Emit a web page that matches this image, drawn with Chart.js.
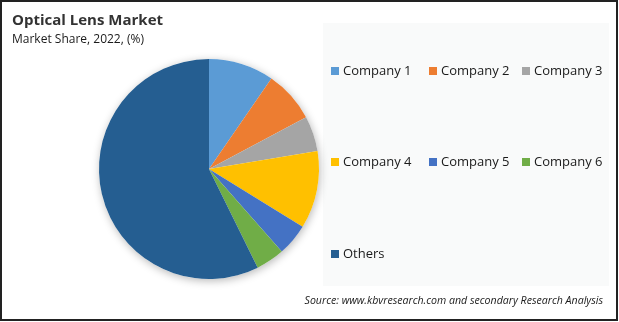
<!DOCTYPE html>
<html>
<head>
<meta charset="utf-8">
<script src="https://cdn.jsdelivr.net/npm/chart.js@4/dist/chart.umd.min.js"></script>
<style>
  html, body { margin: 0; padding: 0; background: #ffffff; }
  #wrap { width: 619px; height: 322px; position: relative; }
</style>
</head>
<body>
<div id="wrap"><canvas id="canvas" width="619" height="322"></canvas></div>
<script>
const titleText = "Optical Lens Market";
const subtitleText = "Market Share, 2022, (%)";
const sourceText = "Source: www.kbvresearch.com and secondary Research Analysis";

const companies = ["Company 1", "Company 2", "Company 3", "Company 4", "Company 5", "Company 6", "Others"];
const shares = [9.6, 7.6, 5.2, 11.4, 4.7, 4.2, 57.3];
const sliceColors = ["#5b9bd5", "#ed7d31", "#a5a5a5", "#ffc000", "#4472c4", "#70ad47", "#255e91"];

const FONT = "'Open Sans', 'Noto Sans', sans-serif";

// background, legend panel, frame, title texts and source line
const decorPlugin = {
    id: "decor",
    beforeDraw(chart) {
        const ctx = chart.ctx;
        ctx.save();
        ctx.fillStyle = "#ffffff";
        ctx.fillRect(0, 0, chart.width, chart.height);
        ctx.fillStyle = "#f9fafa";
        ctx.fillRect(323, 23, 286, 263);
        ctx.restore();
    },
    beforeDatasetsDraw(chart) {
        // soft shadow under the pie
        const arc = chart.getDatasetMeta(0).data[0];
        if (!arc) return;
        const ctx = chart.ctx;
        ctx.save();
        ctx.shadowColor = "rgba(0,0,0,0.28)";
        ctx.shadowBlur = 9;
        ctx.shadowOffsetX = 1;
        ctx.shadowOffsetY = 2;
        ctx.fillStyle = "#ffffff";
        ctx.beginPath();
        ctx.arc(arc.x, arc.y, arc.outerRadius, 0, Math.PI * 2);
        ctx.fill();
        ctx.restore();
    },
    afterDraw(chart) {
        const ctx = chart.ctx;
        ctx.save();
        ctx.textBaseline = "alphabetic";
        ctx.textAlign = "left";
        ctx.fillStyle = "#333333";
        ctx.font = "bold 15px " + FONT;
        ctx.fillText(titleText, 12, 25);
        ctx.fillStyle = "#1a1a1a";
        ctx.font = "12px " + FONT;
        ctx.fillText(subtitleText, 12, 43);

        // legend, three per row
        const colX = [331, 429, 522];
        const rowY = [71, 162, 254];
        ctx.font = "13px " + FONT;
        ctx.textBaseline = "middle";
        companies.forEach((name, i) => {
            const x = colX[i % 3];
            const y = rowY[Math.floor(i / 3)];
            ctx.fillStyle = sliceColors[i];
            ctx.fillRect(x, y - 4, 8, 8);
            ctx.fillStyle = "#1a1a1a";
            ctx.fillText(name, x + 12, y + 0.5);
        });

        ctx.font = "italic 10.6px " + FONT;
        ctx.textAlign = "right";
        ctx.fillStyle = "#1a1a1a";
        ctx.fillText(sourceText, 603, 301);

        ctx.strokeStyle = "#222222";
        ctx.lineWidth = 2;
        ctx.strokeRect(1, 1, 616, 319);
        ctx.restore();
    }
};

const chart = new Chart(document.getElementById("canvas").getContext("2d"), {
    type: "pie",
    data: {
        labels: companies,
        datasets: [{
            data: shares,
            backgroundColor: sliceColors,
            borderWidth: 0
        }]
    },
    options: {
        responsive: false,
        animation: false,
        layout: { padding: { left: 99, right: 300, top: 59, bottom: 43 } },
        plugins: {
            legend: { display: false },
            title: { display: false },
            tooltip: { enabled: false }
        }
    },
    plugins: [decorPlugin]
});
</script>
</body>
</html>
